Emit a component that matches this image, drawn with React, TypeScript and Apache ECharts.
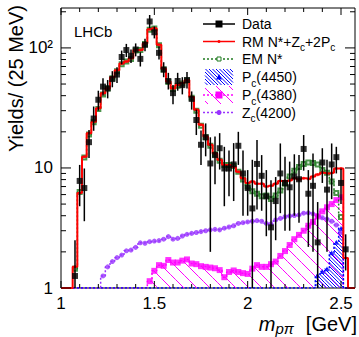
import React, { useEffect, useRef } from 'react';
import * as echarts from 'echarts';

// ---- binning (bin centres start at 1.075 GeV, 25 MeV wide) ----
const binStart = 1.075;
const binWidth = 0.025;

// ---- axis ----
const X_MIN = 1;
const X_MAX = 2.575;
const Y_MIN = 1;
const Y_MAX = 215;
const xTickLabels = ['1', '1.5', '2', '2.5'];
const yTickLabels = ['1', '10', '10²'];

// ---- data (yields / 25 MeV) ----
const dataVals = [1.26, 7.8, 6.8, 16.4, 25.8, 37, 47.6, 46, 55, 60, 84, 96, 86, 97, 81, 106, 166, 135, 91, 66, 53, 42, 53, 49, 54, 37.6, 25.1, 15.6, 18, 10.9, 12.8, 14.6, 9.9, 9.9, 10.7, 15.3, 9.0, 6.8, 4.6, 10.8, 8.6, 5.8, 3.2, 5.3, 9.0, 7.5, 6.9, 8.5, 8.05, 14.4, 6.1, 7.1, 2.4, 11.1, 6.6, 10.7, 12.3, 7.5, 2.1];
const dataLo = [0, 4.8, 3.6, 12.1, 20.4, 30, 40, 38, 47, 51, 73, 84, 75, 85, 70, 94, 146, 120, 80, 57, 45, 34, 44, 41, 46, 30.6, 18.8, 10.6, 12.5, 2, 7.3, 9.7, 4.8, 5.8, 5.3, 10.6, 4, 4.0, 0, 4.5, 4.4, 2.7, 0, 2.5, 4.2, 3, 3, 4, 3.5, 9.5, 2.2, 2, 0, 7.5, 2, 5.5, 9, 5, 1.4];
const dataHi = [2.5, 10.6, 9.9, 20.7, 32.5, 44, 56, 54, 64, 69, 95, 108, 97, 109, 92, 119, 188, 151, 103, 76, 62, 49, 62, 57, 63, 43.4, 30.6, 20.5, 23.5, 18, 18.3, 19.5, 15, 14, 16.1, 20, 14, 9.6, 11.7, 17.1, 12.8, 9.6, 7.9, 8.4, 16, 12.4, 11.3, 13, 12.8, 18.8, 9.6, 13.2, 5.2, 14.6, 11.7, 16, 15, 9.9, 2.8];

// ---- fit RM N*+Zc+2Pc ----
const fitRM = [1.5, 6.2, 12.4, 19.5, 24.3, 31.5, 42, 46, 57, 65, 74, 77, 82, 96, 96, 109, 143, 146, 106, 67, 52.5, 46, 49, 51, 54, 39, 30.6, 22.9, 18.3, 15.6, 13.2, 11.7, 10.6, 10.6, 10.2, 9.3, 8.2, 7.5, 7.7, 7.4, 7.4, 7.0, 7.1, 7.4, 7.8, 7.8, 7.9, 8.2, 8.0, 8.2, 8.1, 8.5, 8.8, 9.1, 9.0, 9.1, 9.9, 9.9, 1.78];
// ---- EM N* ----
const fitEM = [1.45, 6.3, 12.2, 19, 24, 31, 41, 46, 56, 64, 73, 77, 81, 95, 96, 108, 142, 145, 105, 66, 52, 45.5, 48.5, 50.5, 53.5, 38.5, 30, 22.5, 18, 15.3, 13, 11.5, 10.6, 10.6, 10.4, 9.3, 8.0, 7.0, 6.4, 6.1, 5.8, 5.9, 5.5, 5.9, 6.5, 7.4, 8.5, 9.5, 10.2, 10.8, 11.1, 11.0, 10.7, 9.6, 9.1, 7.7, 6.2, 3.9];
// ---- Pc(4450) ----
const pc4450 = [0, 0, 0, 0, 0, 0, 0, 0, 0, 0, 0, 0, 0, 0, 0, 0, 0, 0, 0, 0, 0, 0, 0, 0, 0, 0, 0, 0, 0, 0, 0, 0, 0, 0, 0, 0, 0, 0, 0, 0, 0, 0, 0, 0, 0, 0, 0, 0, 0, 0, 0, 0, 1.28, 1.37, 1.45, 1.97, 2.4, 3.15, 0];
// ---- Pc(4380) ----
const pc4380 = [0, 0, 0, 0, 0, 0, 0, 0, 0, 0, 0, 0, 0, 0, 0, 0, 1.14, 1.39, 1.55, 1.53, 1.71, 1.63, 1.63, 1.69, 1.73, 1.6, 1.58, 1.52, 1.5, 1.48, 1.46, 1.41, 1.23, 1.36, 1.4, 1.36, 1.33, 1.31, 1.45, 1.55, 1.5, 1.5, 1.58, 1.66, 1.85, 2.03, 2.28, 2.55, 2.77, 3.0, 3.3, 3.55, 3.95, 4.35, 4.7, 5.0, 5.4, 5.7, 0];
// ---- Zc(4200) ----
const zc4200 = [0, 0, 0, 0, 0, 0, 1.26, 1.5, 1.66, 1.79, 1.88, 2.04, 2.07, 2.18, 2.38, 2.36, 2.43, 2.46, 2.48, 2.55, 2.68, 2.55, 2.59, 2.71, 2.8, 2.85, 2.9, 2.95, 3.0, 3.05, 3.08, 3.05, 3.15, 3.22, 3.3, 3.45, 3.5, 3.55, 3.6, 3.64, 3.6, 3.45, 3.42, 3.69, 3.8, 3.92, 3.98, 4.02, 4.06, 4.2, 4.22, 4.15, 3.98, 3.85, 3.75, 3.6, 3.35, 2.9, 0];

const FONT = '"Liberation Sans", Arial, Helvetica, sans-serif';
const RED = '#ff0000';
const GREEN = '#1f7a1f';
const BLUE = '#0000ff';
const MAGENTA = '#ff00ff';
const PURPLE = '#9933ff';

const centre = (i: number) => binStart + i * binWidth;
const clampY = (v: number) => Math.max(v, Y_MIN);

function stepPoints(vals: number[], extendBottom: boolean) {
  const pts: number[][] = [];
  const firstEdge = centre(0) - binWidth / 2;
  const lastEdge = centre(vals.length - 1) + binWidth / 2;
  if (extendBottom) pts.push([X_MIN, Y_MIN], [firstEdge, Y_MIN]);
  vals.forEach((v, i) => {
    const c = centre(i);
    pts.push([c - binWidth / 2, clampY(v)], [c + binWidth / 2, clampY(v)]);
  });
  if (extendBottom) pts.push([lastEdge, Y_MIN], [X_MAX, Y_MIN]);
  return pts;
}

function markerPoints(vals: number[]) {
  return vals.map((v, i) => [centre(i), v]).filter((d) => d[1] > Y_MIN);
}

function hatchSegments(x0: number, y0: number, x1: number, y1: number, s: number) {
  // family of "\" lines: y = x + c
  const segs: number[][] = [];
  const kMin = Math.ceil((y0 - x1) / s);
  const kMax = Math.floor((y1 - x0) / s);
  for (let k = kMin; k <= kMax; k++) {
    const c = k * s;
    const xs = Math.max(x0, y0 - c);
    const xe = Math.min(x1, y1 - c);
    if (xe > xs) segs.push([xs, xs + c, xe, xe + c]);
  }
  return segs;
}

function hatchSeries(vals: number[], color: string, spacing: number, lw: number, z: number) {
  return {
    type: 'custom',
    z,
    silent: true,
    clip: true,
    data: vals.map((v, i) => [centre(i), v]).filter((d) => d[1] > Y_MIN),
    encode: { x: 0, y: 1 },
    renderItem: (params: any, api: any) => {
      const c = api.value(0);
      const v = api.value(1);
      const tl = api.coord([c - binWidth / 2, v]);
      const br = api.coord([c + binWidth / 2, Y_MIN]);
      const segs = hatchSegments(tl[0], tl[1], br[0], br[1], spacing);
      return {
        type: 'group',
        children: segs.map((sg) => ({
          type: 'line',
          shape: { x1: sg[0], y1: sg[1], x2: sg[2], y2: sg[3] },
          style: { stroke: color, lineWidth: lw },
        })),
      };
    },
  };
}

function stepLine(vals: number[], color: string, width: number, type: any, z: number, extend: boolean) {
  return {
    type: 'line',
    z,
    silent: true,
    data: stepPoints(vals, extend),
    showSymbol: false,
    symbol: 'none',
    lineStyle: { color, width, type },
  };
}

function markers(vals: number[], symbol: string, size: number, color: string, z: number, extra: any = {}) {
  return {
    type: 'scatter',
    z,
    silent: true,
    data: markerPoints(vals),
    symbol,
    symbolSize: size,
    itemStyle: { color, ...extra },
  };
}

// axis tick marks (ROOT style, mirrored on all four sides)
const xTicks: number[][] = [];
for (let i = 0; i <= 15; i++) {
  const v = 1 + i * 0.1;
  xTicks.push([v, Y_MIN, 0, i % 5 === 0 ? 1 : 0]);
}
const yTicks: number[][] = [];
for (let d = 1; d <= 100; d *= 10) {
  for (let m = 1; m <= 9; m++) {
    const v = m * d;
    if (v <= Y_MAX) yTicks.push([X_MIN, v, 1, m === 1 ? 1 : 0]);
  }
}

function legendHatch(x0: number, y0: number, x1: number, y1: number, s: number, color: string, lw: number) {
  return hatchSegments(x0, y0, x1, y1, s).map((sg) => ({
    type: 'line',
    shape: { x1: sg[0], y1: sg[1], x2: sg[2], y2: sg[3] },
    style: { stroke: color, lineWidth: lw },
    z: 100,
  }));
}

export default function App() {
  const ref = useRef<HTMLDivElement>(null);
  useEffect(() => {
    if (!ref.current) return;
    const chart = echarts.init(ref.current, undefined, { renderer: 'svg' });
    const lx0 = 203;
    const lx1 = 235;
    const lxm = 219;
    const tx = 242;
    const rows = [24, 41.5, 59, 77, 95, 112.5];
    const legendText = (txt: string, y: number) => ({
      type: 'text',
      z: 100,
      style: {
        text: txt,
        x: tx,
        y,
        verticalAlign: 'middle',
        align: 'left',
        font: `14px ${FONT}`,
        fill: '#000',
        rich: {
          s: { fontSize: 10, fontFamily: FONT, lineHeight: 22, verticalAlign: 'bottom', fill: '#000' },
        },
      },
    });
    const option: any = {
      animation: false,
      grid: { left: 61, top: 8, width: 294, height: 280, show: true, borderColor: '#000', borderWidth: 1, backgroundColor: 'transparent' },
      xAxis: {
        type: 'value',
        min: X_MIN,
        max: X_MAX,
        interval: 0.5,
        axisLine: { show: false },
        axisTick: { show: false },
        splitLine: { show: false },
        axisLabel: {
          showMaxLabel: false,
          color: '#000',
          fontSize: 17,
          fontFamily: FONT,
          margin: 7,
          formatter: (v: number) => {
            const idx = Math.round((v - 1) / 0.5);
            return Math.abs(v - (1 + idx * 0.5)) < 1e-6 && idx >= 0 && idx < xTickLabels.length ? xTickLabels[idx] : '';
          },
        },
      },
      yAxis: {
        type: 'log',
        logBase: 10,
        min: Y_MIN,
        max: Y_MAX,
        axisLine: { show: false },
        axisTick: { show: false },
        splitLine: { show: false },
        axisLabel: {
          showMaxLabel: false,
          color: '#000',
          fontSize: 17,
          fontFamily: FONT,
          margin: 8,
          formatter: (v: number) => {
            const e = Math.round(Math.log10(v));
            return Math.abs(Math.log10(v) - e) < 1e-6 && e >= 0 && e < yTickLabels.length ? yTickLabels[e] : '';
          },
        },
      },
      series: [
        hatchSeries(pc4380, MAGENTA, 13, 1, 1),
        hatchSeries(pc4450, BLUE, 3.5, 1, 1),
        stepLine(zc4200, PURPLE, 1.5, [2, 2], 2, true),
        stepLine(pc4380, MAGENTA, 1.5, [2, 2], 2, true),
        stepLine(pc4450, BLUE, 1.5, [2, 2], 2, true),
        markers(zc4200, 'circle', 5, PURPLE, 3),
        markers(pc4380, 'rect', 6, MAGENTA, 3),
        markers(pc4450, 'triangle', 5, BLUE, 3),
        stepLine(fitEM, GREEN, 1.5, [2, 2], 4, false),
        markers(fitEM, 'emptyRect', 4, GREEN, 4, { borderWidth: 1, borderColor: GREEN }),
        stepLine(fitRM, RED, 2, 'solid', 5, true),
        markers(fitRM, 'circle', 3, RED, 5),
        {
          type: 'custom',
          z: 6,
          silent: true,
          data: dataVals.map((v, i) => [centre(i), clampY(dataLo[i]), dataHi[i]]),
          encode: { x: 0, y: [1, 2] },
          renderItem: (params: any, api: any) => {
            const x = api.value(0);
            const a = api.coord([x, api.value(1)]);
            const b = api.coord([x, api.value(2)]);
            return { type: 'line', shape: { x1: a[0], y1: a[1], x2: b[0], y2: b[1] }, style: { stroke: '#000', lineWidth: 1.5 } };
          },
        },
        markers(dataVals, 'rect', 6, '#000', 7),
        {
          type: 'custom',
          z: 8,
          silent: true,
          clip: false,
          data: [...xTicks, ...yTicks],
          encode: { x: 0, y: 1 },
          renderItem: (params: any, api: any) => {
            const v0 = api.value(0);
            const v1 = api.value(1);
            const isY = api.value(2) === 1;
            const major = api.value(3) === 1;
            const style = { stroke: '#000', lineWidth: 1 };
            if (!isY) {
              const len = major ? 7 : 4;
              const b = api.coord([v0, Y_MIN]);
              const t = api.coord([v0, Y_MAX]);
              return {
                type: 'group',
                children: [
                  { type: 'line', shape: { x1: b[0], y1: b[1], x2: b[0], y2: b[1] - len }, style },
                  { type: 'line', shape: { x1: t[0], y1: t[1], x2: t[0], y2: t[1] + len }, style },
                ],
              };
            }
            const len = major ? 10 : 5;
            const l = api.coord([X_MIN, v1]);
            const r = api.coord([X_MAX, v1]);
            return {
              type: 'group',
              children: [
                { type: 'line', shape: { x1: l[0], y1: l[1], x2: l[0] + len, y2: l[1] }, style },
                { type: 'line', shape: { x1: r[0], y1: r[1], x2: r[0] - len, y2: r[1] }, style },
              ],
            };
          },
        },
      ],
      graphic: [
        { type: 'text', z: 100, style: { text: 'LHCb', x: 74, y: 31, verticalAlign: 'middle', font: `15px ${FONT}`, fill: '#000' } },
        {
          type: 'text',
          z: 100,
          x: 16,
          y: 5,
          rotation: Math.PI / 2,
          style: { text: 'Yields/ (25 MeV)', x: 0, y: 0, align: 'right', verticalAlign: 'middle', font: `20px ${FONT}`, fill: '#000' },
        },
        {
          type: 'text',
          z: 100,
          style: {
            text: '{m|m}{s|pπ}{n|[GeV]}',
            x: 357,
            y: 324,
            align: 'right',
            verticalAlign: 'middle',
            font: `20px ${FONT}`,
            fill: '#000',
            rich: {
              m: { fontSize: 20, fontStyle: 'italic', fontFamily: FONT, fill: '#000' },
              s: { fontSize: 15, fontStyle: 'italic', fontFamily: FONT, lineHeight: 24, verticalAlign: 'bottom', fill: '#000' },
              n: { fontSize: 20, fontFamily: FONT, fill: '#000', padding: [0, 0, 0, 12] },
            },
          },
        },
        // legend: Data
        { type: 'line', z: 100, shape: { x1: lx0, y1: rows[0], x2: lx1, y2: rows[0] }, style: { stroke: '#000', lineWidth: 1.5 } },
        { type: 'rect', z: 100, shape: { x: lxm - 3.5, y: rows[0] - 3.5, width: 7, height: 7 }, style: { fill: '#000' } },
        legendText('Data', rows[0]),
        // RM
        { type: 'line', z: 100, shape: { x1: lx0, y1: rows[1], x2: lx1, y2: rows[1] }, style: { stroke: RED, lineWidth: 1.5 } },
        { type: 'circle', z: 100, shape: { cx: lxm, cy: rows[1], r: 1.5 }, style: { fill: RED } },
        legendText('RM N*+Z{s|c}+2P{s|c}', rows[1]),
        // EM
        { type: 'line', z: 100, shape: { x1: lx0, y1: rows[2], x2: lx1, y2: rows[2] }, style: { stroke: GREEN, lineWidth: 1.5, lineDash: [2, 2] } },
        { type: 'rect', z: 100, shape: { x: lxm - 2, y: rows[2] - 2, width: 4, height: 4 }, style: { fill: '#fff', stroke: GREEN, lineWidth: 1 } },
        legendText('EM N*', rows[2]),
        // Pc(4450)
        ...legendHatch(205, rows[3] - 8, 233, rows[3] + 8, 3.5, BLUE, 1),
        { type: 'polygon', z: 100, shape: { points: [[lxm, rows[3] - 3], [lxm + 3, rows[3] + 2.5], [lxm - 3, rows[3] + 2.5]] }, style: { fill: BLUE } },
        legendText('P{s|c}(4450)', rows[3]),
        // Pc(4380)
        ...legendHatch(205, rows[4] - 9, 233, rows[4] + 9, 13, MAGENTA, 1),
        { type: 'line', z: 100, shape: { x1: lx0, y1: rows[4], x2: lx1, y2: rows[4] }, style: { stroke: MAGENTA, lineWidth: 1.5, lineDash: [2, 2] } },
        { type: 'rect', z: 100, shape: { x: lxm - 3.5, y: rows[4] - 3.5, width: 7, height: 7 }, style: { fill: MAGENTA } },
        legendText('P{s|c}(4380)', rows[4]),
        // Zc(4200)
        { type: 'line', z: 100, shape: { x1: lx0, y1: rows[5], x2: lx1, y2: rows[5] }, style: { stroke: PURPLE, lineWidth: 1.5, lineDash: [2, 2] } },
        { type: 'circle', z: 100, shape: { cx: lxm, cy: rows[5], r: 2.5 }, style: { fill: PURPLE } },
        legendText('Z{s|c}(4200)', rows[5]),
      ],
    };
    chart.setOption(option);
    return () => chart.dispose();
  }, []);
  return <div ref={ref} style={{ position: 'fixed', left: 0, top: 0, width: 359, height: 337, background: '#fff' }} />;
}
